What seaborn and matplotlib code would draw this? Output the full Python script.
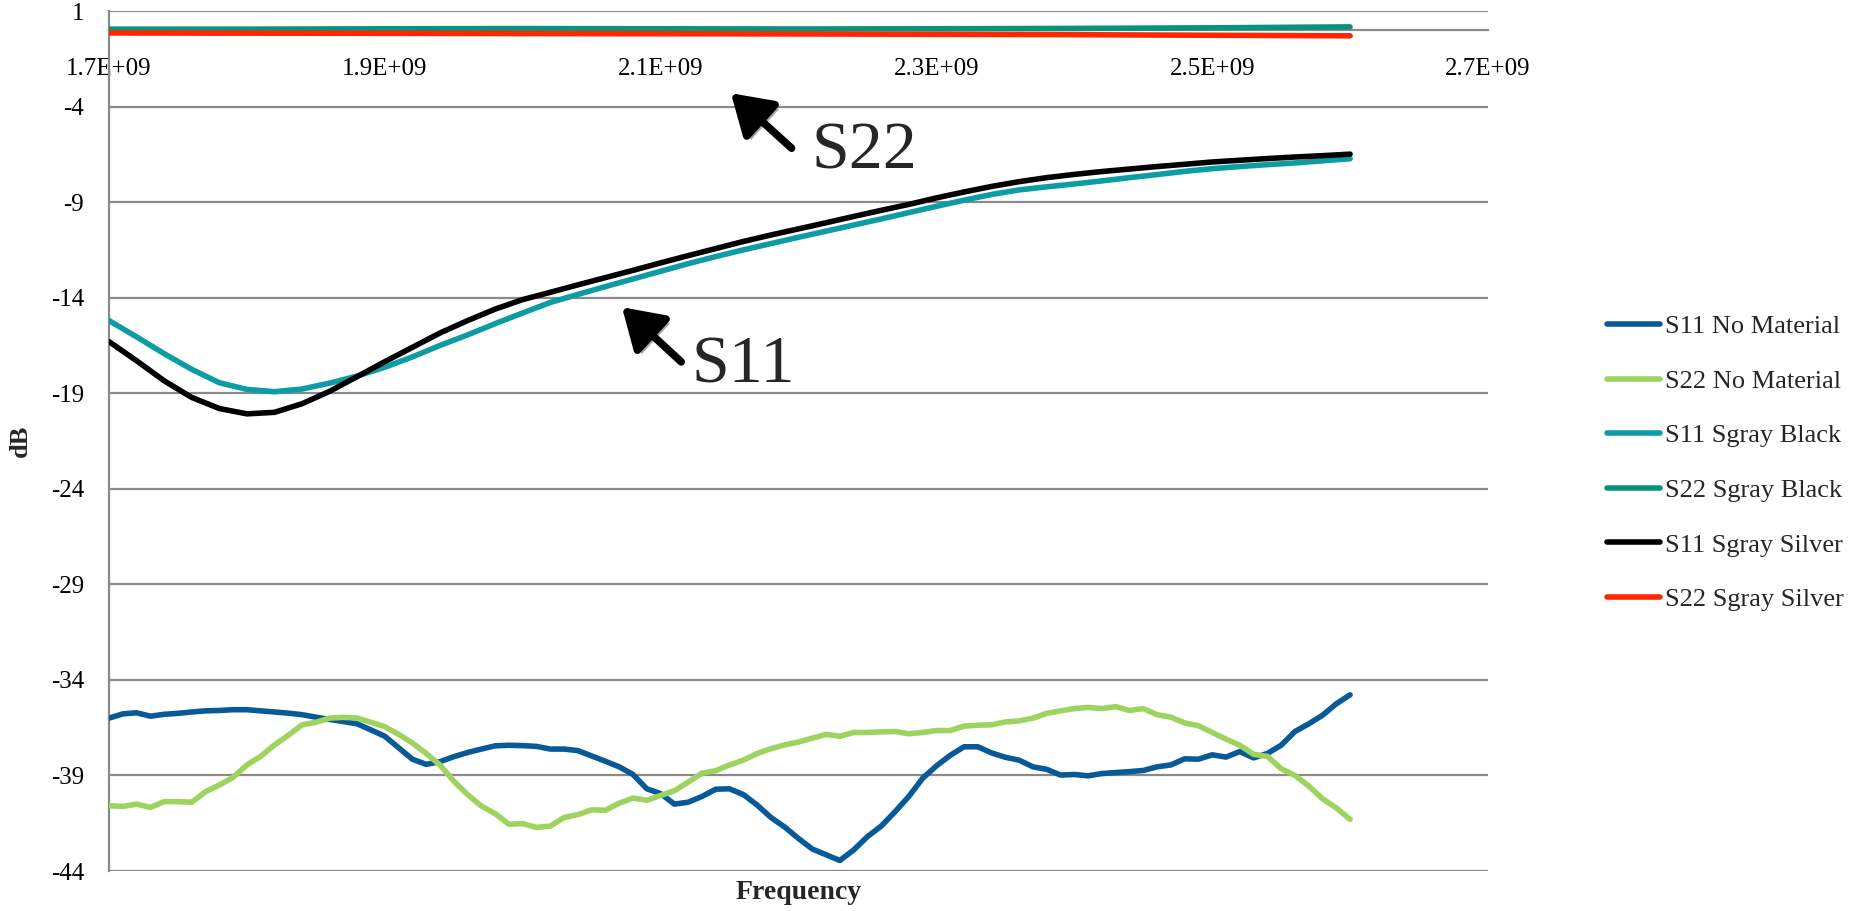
import numpy as np
import pandas as pd
import matplotlib
matplotlib.use("Agg")
import matplotlib.pyplot as plt
import matplotlib.patheffects as pe
import seaborn as sns

# Frequency sweeps (Hz)
freq_fine = np.linspace(1.70e9, 2.60e9, 91)     # 10 MHz steps
freq_coarse = np.linspace(1.70e9, 2.60e9, 46)   # 20 MHz steps
freq_flat = np.linspace(1.70e9, 2.60e9, 10)     # 100 MHz steps

# Return loss without any material (dB, 10 MHz steps)
s11_no_material = [
    -36.00, -35.78, -35.72, -35.90, -35.80, -35.75, -35.68, -35.62, -35.60, -35.56,
    -35.56, -35.62, -35.68, -35.74, -35.82, -35.95, -36.07, -36.18, -36.30, -36.62,
    -36.95, -37.55, -38.15, -38.42, -38.28, -38.02, -37.80, -37.62, -37.45, -37.42,
    -37.44, -37.48, -37.62, -37.62, -37.70, -37.98, -38.26, -38.55, -38.95, -39.70,
    -39.95, -40.50, -40.40, -40.10, -39.72, -39.70, -40.00, -40.55, -41.20, -41.70,
    -42.30, -42.85, -43.15, -43.45, -42.90, -42.20, -41.65, -40.90, -40.10, -39.15,
    -38.50, -37.95, -37.50, -37.50, -37.82, -38.05, -38.20, -38.55, -38.68, -38.98,
    -38.95, -39.02, -38.90, -38.85, -38.80, -38.74, -38.55, -38.45, -38.13, -38.15,
    -37.92, -38.04, -37.75, -38.08, -37.85, -37.42, -36.70, -36.30, -35.85, -35.25,
    -34.78,
]
s22_no_material = [
    -40.58, -40.62, -40.50, -40.67, -40.37, -40.37, -40.40, -39.85, -39.50, -39.10,
    -38.45, -38.00, -37.40, -36.90, -36.35, -36.22, -36.00, -35.96, -36.00, -36.22,
    -36.45, -36.85, -37.30, -37.85, -38.45, -39.30, -40.00, -40.60, -41.00, -41.55,
    -41.52, -41.72, -41.65, -41.20, -41.05, -40.80, -40.82, -40.45, -40.18, -40.30,
    -40.05, -39.80, -39.35, -38.88, -38.75, -38.45, -38.20, -37.85, -37.60, -37.40,
    -37.25, -37.05, -36.85, -36.95, -36.75, -36.75, -36.72, -36.70, -36.82, -36.75,
    -36.65, -36.65, -36.42, -36.37, -36.35, -36.20, -36.15, -36.00, -35.75, -35.62,
    -35.50, -35.44, -35.50, -35.40, -35.60, -35.50, -35.82, -35.95, -36.25, -36.40,
    -36.75, -37.10, -37.42, -37.90, -38.00, -38.65, -39.00, -39.55, -40.22, -40.70,
    -41.30,
]

# Sgray samples (dB, 20 MHz steps)
s11_sgray_black = [
    -15.20, -16.05, -16.93, -17.75, -18.45, -18.80, -18.92, -18.78, -18.47, -18.10,
    -17.64, -17.10, -16.50, -15.95, -15.36, -14.80, -14.25, -13.83, -13.42, -13.02,
    -12.62, -12.22, -11.85, -11.50, -11.17, -10.84, -10.52, -10.20, -9.88, -9.55,
    -9.22, -8.90, -8.60, -8.36, -8.20, -8.05, -7.89, -7.72, -7.56, -7.39,
    -7.25, -7.14, -7.04, -6.95, -6.84, -6.73,
]
s11_sgray_silver = [
    -16.30, -17.30, -18.35, -19.22, -19.80, -20.08, -20.00, -19.55, -18.90, -18.13,
    -17.35, -16.60, -15.85, -15.20, -14.60, -14.10, -13.72, -13.33, -12.95, -12.57,
    -12.18, -11.80, -11.43, -11.06, -10.72, -10.40, -10.08, -9.75, -9.43, -9.12,
    -8.78, -8.47, -8.18, -7.93, -7.72, -7.55, -7.40, -7.27, -7.14, -7.02,
    -6.90, -6.81, -6.72, -6.64, -6.57, -6.49,
]

# Transmission-side reflections (dB, 100 MHz steps)
s22_sgray_black = [0.05, 0.05, 0.07, 0.08, 0.07, 0.06, 0.07, 0.09, 0.12, 0.17]
s22_sgray_silver = [-0.15, -0.16, -0.17, -0.18, -0.19, -0.20, -0.22, -0.24, -0.27, -0.30]

series_names = [
    "S11 No Material", "S22 No Material",
    "S11 Sgray Black", "S22 Sgray Black",
    "S11 Sgray Silver", "S22 Sgray Silver",
]
series_colors = ["#075a97", "#9dd35e", "#0d9ca3", "#08937a", "#000000", "#ff2600"]

x_ticks = [1.7e9, 1.9e9, 2.1e9, 2.3e9, 2.5e9, 2.7e9]
x_tick_labels = ["1.7E+09", "1.9E+09", "2.1E+09", "2.3E+09", "2.5E+09", "2.7E+09"]
y_ticks = [1, -4, -9, -14, -19, -24, -29, -34, -39, -44]

frames = []
for name, freq, vals in [
    (series_names[0], freq_fine, s11_no_material),
    (series_names[1], freq_fine, s22_no_material),
    (series_names[2], freq_coarse, s11_sgray_black),
    (series_names[3], freq_flat, s22_sgray_black),
    (series_names[4], freq_coarse, s11_sgray_silver),
    (series_names[5], freq_flat, s22_sgray_silver),
]:
    frames.append(pd.DataFrame({"Frequency": freq, "dB": vals, "series": name}))
df = pd.concat(frames, ignore_index=True)

sns.set_style("white")
plt.rcParams["font.family"] = ["Liberation Serif", "DejaVu Serif"]
plt.rcParams["axes.unicode_minus"] = False

W, H = 1858, 911
fig, ax = plt.subplots(figsize=(W / 100, H / 100), dpi=100)
fig.subplots_adjust(left=109 / W, right=1488 / W, top=1 - 11 / H, bottom=1 - 871 / H)

sns.lineplot(
    data=df, x="Frequency", y="dB", hue="series",
    hue_order=series_names, palette=series_colors,
    estimator=None, sort=False, legend=False, lw=4.0, ax=ax, zorder=3,
)
for ln in ax.lines:
    ln.set_solid_capstyle("round")
    ln.set_solid_joinstyle("round")

grid_col = "#8a8a8a"
ax.set_xlim(1.7e9, 2.7e9)
ax.set_ylim(-44, 1)
ax.set_yticks(y_ticks)
ax.set_yticklabels([str(v) for v in y_ticks])
ax.set_xticks(x_ticks)
ax.set_xticklabels(x_tick_labels)
ax.grid(False)
ax.yaxis.grid(True, color=grid_col, lw=1.6)
ax.set_axisbelow(True)

for side in ("top", "right"):
    ax.spines[side].set_visible(False)
ax.spines["left"].set_color(grid_col)
ax.spines["left"].set_linewidth(1.6)
ax.spines["bottom"].set_position(("data", 0))
ax.spines["bottom"].set_color(grid_col)
ax.spines["bottom"].set_linewidth(1.6)

ax.tick_params(axis="both", length=0, labelsize=18, colors="black")
ax.tick_params(axis="x", pad=20)
ax.tick_params(axis="y", pad=18)

ax.set_xlabel("Frequency", fontsize=20, fontweight="bold")
ax.xaxis.set_label_coords(0.5, -0.010)
ax.set_ylabel("dB", fontsize=19, fontweight="bold")
ax.yaxis.label.set_va("center")
ax.yaxis.set_label_coords(-0.064, 0.5)

# Callouts for the two parameter groups
arrow_kw = dict(arrowstyle="-|>,head_length=0.6,head_width=0.38", lw=5.5,
                color="black", mutation_scale=40, shrinkA=0, shrinkB=0)
for txt, tip, tail, pos in [
    ("S22", (2.151e9, -3.3), (2.195e9, -6.18), (2.248e9, -6.4)),
    ("S11", (2.072e9, -14.5), (2.115e9, -17.36), (2.160e9, -17.6)),
]:
    ann = ax.annotate("", xy=tip, xytext=tail, arrowprops=arrow_kw, zorder=4)
    ann.arrow_patch.set_path_effects(
        [pe.withSimplePatchShadow(offset=(3, -3), shadow_rgbFace="black", alpha=0.35)]
    )
    ax.text(pos[0], pos[1], txt, fontsize=49, ha="center", va="center", zorder=4)

fig.legend(
    ax.lines[:6], series_names, loc="center left",
    bbox_to_anchor=(1607 / W, 1 - 463 / H), frameon=False, fontsize=19,
    handlelength=2.0, handletextpad=0.2, labelspacing=1.18,
    borderpad=0, borderaxespad=0,
)

fig.savefig("out.png", dpi=100, facecolor="white")
